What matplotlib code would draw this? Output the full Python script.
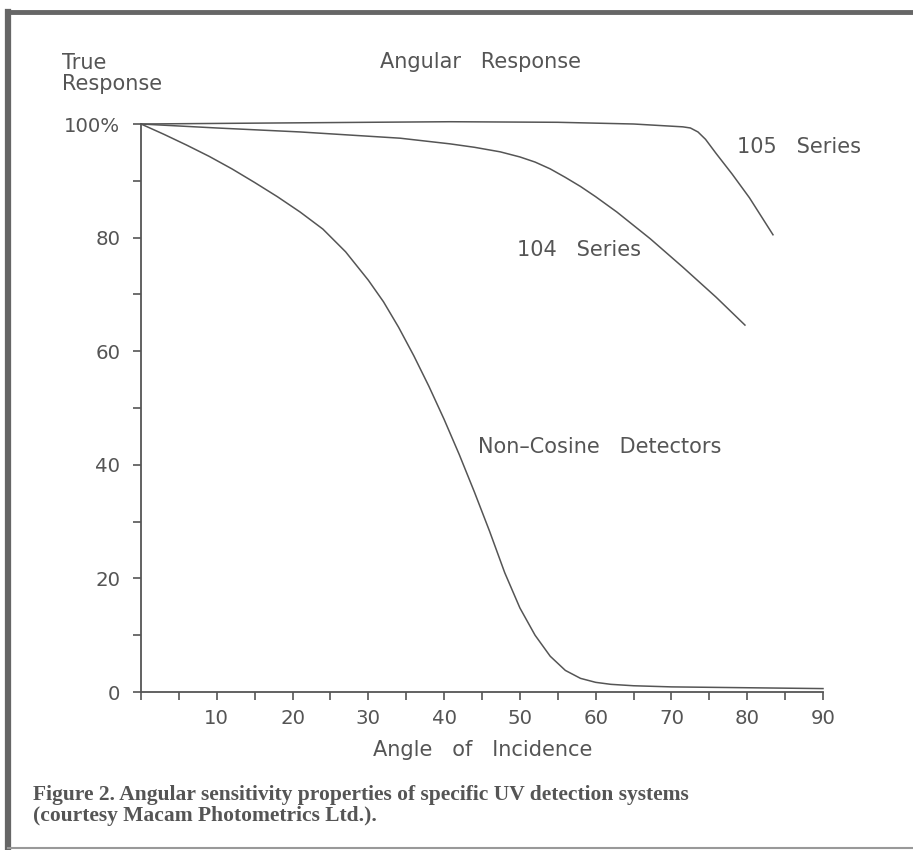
import numpy as np
import matplotlib
matplotlib.use("Agg")
import matplotlib.pyplot as plt
from matplotlib.lines import Line2D

# curves (angle in deg, response in %)
ang_105 = [0, 10, 20, 30, 40.8, 55, 65, 71.5, 72.5, 73.5, 74.5, 75.9, 78, 80.3, 83.4]
resp_105 = [100, 100.1, 100.2, 100.3, 100.4, 100.3, 100, 99.5, 99.3, 98.6, 97.3, 94.8, 91.2, 87.0, 80.5]

ang_104 = [0, 10, 21, 34.2, 40.8, 44, 47.4, 50, 52, 54, 56, 58, 60, 62.8, 67.2, 71.5, 75.9, 79.7]
resp_104 = [100, 99.3, 98.6, 97.5, 96.5, 95.9, 95.1, 94.2, 93.3, 92.1, 90.6, 89.0, 87.2, 84.5, 79.8,
            74.8, 69.5, 64.6]

ang_nc = [0, 3, 6, 9, 12, 15, 18, 21, 24, 27, 30, 32, 34, 36, 38, 40, 42, 44, 46, 48, 50, 52,
          54, 56, 58, 60, 62, 65, 70, 80, 90]
resp_nc = [100, 98.2, 96.3, 94.3, 92.1, 89.7, 87.2, 84.5, 81.5, 77.5, 72.5, 68.7, 64.2, 59.2, 53.8,
           48.0, 41.8, 35.2, 28.3, 21.0, 14.8, 10.0, 6.3, 3.8, 2.4, 1.7, 1.35, 1.1, 0.9, 0.75, 0.6]

xticks = np.arange(0, 91, 5)
xlabels = [str(int(t)) if (t % 10 == 0 and t > 0) else "" for t in xticks]
yticks = np.arange(0, 101, 10)
ylabels = {0: "0", 20: "20", 40: "40", 60: "60", 80: "80", 100: "100%"}

INK = "#555555"
W, H = 913, 850
plt.rcParams["font.family"] = ["DejaVu Sans"]

fig = plt.figure(figsize=(W / 100, H / 100), dpi=100)
fig.patch.set_facecolor("white")
ax = fig.add_axes([141 / W, 1 - 692 / H, (823 - 141) / W, (692 - 124) / H])

for x, y in ((ang_105, resp_105), (ang_104, resp_104), (ang_nc, resp_nc)):
    ax.plot(x, y, color=INK, lw=1.1, solid_joinstyle="round", clip_on=False)

ax.set_xlim(0, 90); ax.set_ylim(0, 100)
for s in ("top", "right"):
    ax.spines[s].set_visible(False)
for s in ("left", "bottom"):
    ax.spines[s].set_color(INK); ax.spines[s].set_linewidth(1.3)
ax.set_xticks(xticks); ax.set_xticklabels(xlabels)
ax.set_yticks(yticks); ax.set_yticklabels([ylabels.get(int(t), "") for t in yticks])
ax.tick_params(axis="x", direction="out", length=6, width=1.2, color=INK, labelcolor=INK, labelsize=14.2, pad=6)
ax.tick_params(axis="y", direction="out", length=6, width=1.2, color=INK, labelcolor=INK, labelsize=14.2, pad=9)

def ftext(x, y, s, **kw):
    fig.text(x / W, 1 - y / H, s, color=INK, fontsize=15, **kw)

ftext(62, 53, "True\nResponse", ha="left", va="top", linespacing=1.05)
ftext(480, 62, "Angular   Response", ha="center", va="center")
ftext(737, 147, "105   Series", ha="left", va="center")
ftext(517, 250, "104   Series", ha="left", va="center")
ftext(478, 447, "Non\u2013Cosine   Detectors", ha="left", va="center")
ftext(483, 750, "Angle   of   Incidence", ha="center", va="center")

cap_kw = dict(color=INK, fontsize=15.5, fontweight="bold", family=["Liberation Serif"],
              ha="left", va="baseline")
fig.text(33 / W, 1 - 800 / H, "Figure 2. Angular sensitivity properties of specific UV detection systems", **cap_kw)
fig.text(33 / W, 1 - 821 / H, "(courtesy Macam Photometrics Ltd.).", **cap_kw)

# scanned page frame (left, top, bottom)
fig.add_artist(Line2D([8 / W, 8 / W], [1 - 12 / H, 1 - 848 / H], color="#666666", lw=4.5))
fig.add_artist(Line2D([8 / W, 1], [1 - 12 / H, 1 - 12 / H], color="#666666", lw=3.5))
fig.add_artist(Line2D([8 / W, 1], [1 - 848 / H, 1 - 848 / H], color="#999999", lw=1.5))

fig.savefig("out.png", dpi=100)
